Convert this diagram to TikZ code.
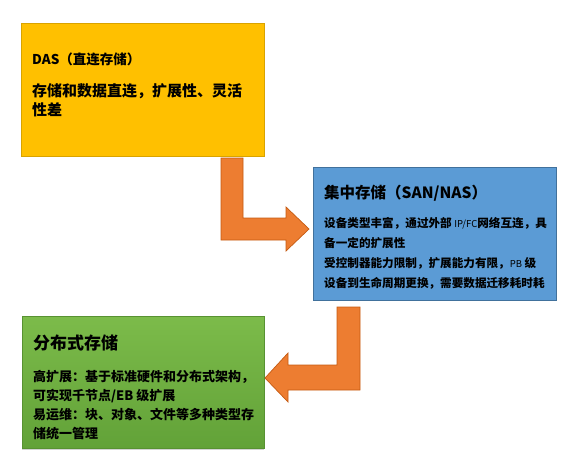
\documentclass[tikz,border=0pt]{standalone}
\usepackage{fontspec}
\newfontfamily\cjk{Noto Sans CJK SC}
\usetikzlibrary{shadows}
\definecolor{boxyellow}{HTML}{FFC000}
\definecolor{boxyellowline}{HTML}{D9A300}
\definecolor{boxblue}{HTML}{5B9BD5}
\definecolor{boxblueline}{HTML}{41719C}
\definecolor{arroworange}{HTML}{ED7D31}
\definecolor{arrowline}{HTML}{C55A11}
\definecolor{greentop}{HTML}{7CBB4A}
\definecolor{greenbot}{HTML}{62A238}
\tikzset{
  panel/.style={draw, line width=0.8pt, rectangle, inner sep=0pt, anchor=north west},
  bigarrow/.style={fill=arroworange, draw=arrowline, line width=0.7pt, line join=miter},
  title/.style={anchor=west, inner sep=0pt, font=\cjk\bfseries\fontsize{#1}{#1}\selectfont},
  body/.style n args={2}{anchor=north west, inner sep=0pt, align=left, font=\cjk\bfseries\fontsize{#1}{#2}\selectfont},
  latin/.style={},
}
\newcommand{\smalllatin}[1]{{\fontsize{9.5}{9.5}\selectfont\mdseries #1}}
\begin{document}
\begin{tikzpicture}[x=1pt,y=-1pt]
\useasboundingbox (0,0) rectangle (578,471);
% boxes
\node[panel, fill=boxyellow, draw=boxyellowline, minimum width=243pt, minimum height=133pt] (das) at (21,23) {};
\node[panel, fill=boxblue, draw=boxblueline, minimum width=243pt, minimum height=133pt] (san) at (313,167) {};
\node[panel, top color=greentop, bottom color=greenbot, draw=greenbot!90!black, minimum width=242pt, minimum height=132pt,
  drop shadow={shadow xshift=0pt, shadow yshift=-2pt, opacity=0.35}] (dist) at (22,316) {};
% arrows
\draw[bigarrow] (221,158) -- (243,158) -- (243,218) -- (286,218) -- (286,207) -- (309,229) -- (286,251) -- (286,240) -- (221,240) -- cycle;
\draw[bigarrow] (337,307) -- (360,307) -- (360,390) -- (288,390) -- (288,402) -- (265,378) -- (288,353) -- (288,365) -- (337,365) -- cycle;
% texts
\node[title=13.5] (dasT) at (32,59) {DAS（直连存储）};
\node[body={15}{19}] (dasB) at (32,83) {存储和数据直连，扩展性、灵活\\性差};
\node[title=15.5] (sanT) at (324,193) {集中存储（SAN/NAS）};
\node[body={11.6}{20}] (sanB) at (324,217) {设备类型丰富，通过外部 \smalllatin{IP/FC}网络互连，具\\备一定的扩展性\\受控制器能力限制，扩展能力有限，\smalllatin{PB} 级\\设备到生命周期更换，需要数据迁移耗时耗};
\node[title=17] (distT) at (33,343) {分布式存储};
\node[body={13}{19}] (distB) at (33,370) {高扩展：基于标准硬件和分布式架构，\\可实现千节点/EB 级扩展\\易运维：块、对象、文件等多种类型存\\储统一管理};
\end{tikzpicture}
\end{document}
